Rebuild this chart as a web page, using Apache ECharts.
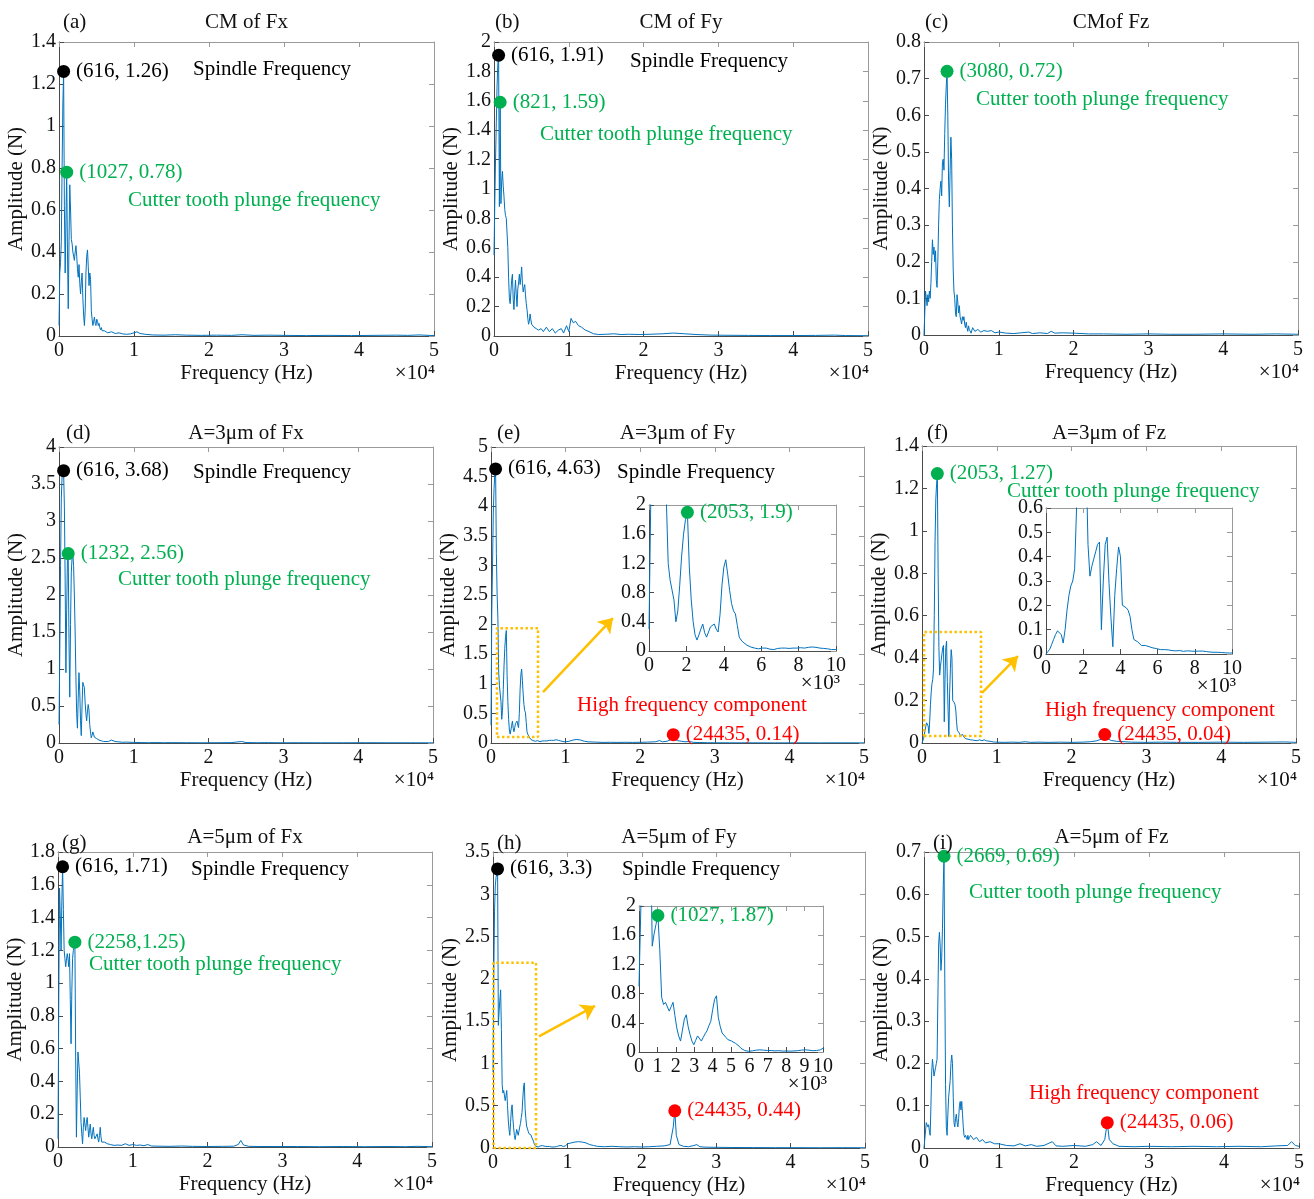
<!DOCTYPE html>
<html>
<head>
<meta charset="utf-8">
<title>Cutting force spectra</title>
<script src="https://cdn.jsdelivr.net/npm/echarts@6/dist/echarts.min.js"></script>
<style>
  html, body { margin: 0; padding: 0; background: #fff; }
  #chart { width: 1314px; height: 1199px; }
</style>
</head>
<body>
<div id="chart"></div>
<script>
// Spectral bin width of the force FFT (Hz)
const BIN_HZ = 616 / 6;

// ---- Amplitude spectra (N). "Low" arrays are consecutive bins from 0 Hz,
// ---- "Tail" arrays are [Hz, N] points for the rest of the band.
const cmFxLow = [0.05,0.30,0.35,0.45,0.80,1.10,1.26,0.62,0.30,0.55,0.78,0.40,0.13,0.45,0.72,0.60,0.46,0.44,0.40,0.38,0.36,0.40,0.43,0.38,0.32,0.28,0.34,0.25,0.20,0.26,0.30,0.18,0.10,0.05,0.12,0.30,0.38,0.41,0.33,0.24,0.30,0.27,0.12,0.08,0.05,0.07,0.09,0.06,0.05,0.08,0.07,0.05,0.06,0.04,0.03,0.04,0.025,0.03,0.02,0.025];
const cmFxTail = [[6160,0.02],[6500,0.015],[7000,0.02],[7500,0.012],[8000,0.015],[8500,0.01],[9000,0.008],[9500,0.01],[10000,0.015],[10400,0.02],[10800,0.012],[11500,0.008],[12500,0.005],[14000,0.004],[15500,0.006],[17000,0.004],[19000,0.003],[21000,0.004],[23000,0.003],[24400,0.006],[26000,0.003],[28000,0.004],[30000,0.003],[33000,0.002],[36000,0.003],[39000,0.002],[42000,0.003],[45000,0.004],[46500,0.003],[48000,0.005],[50000,0.002]];

const cmFyLow = [0.55,0.90,1.20,1.45,1.70,1.85,1.91,0.88,1.59,0.90,1.05,1.12,1.02,0.95,0.86,0.82,0.80,0.70,0.60,0.40,0.26,0.22,0.30,0.38,0.42,0.25,0.18,0.30,0.38,0.28,0.20,0.32,0.36,0.42,0.35,0.40,0.47,0.36,0.30,0.33,0.35,0.28,0.22,0.18,0.12,0.08,0.10,0.15,0.11,0.08,0.07,0.09,0.06,0.05,0.07,0.05,0.04,0.06,0.04,0.03];
const cmFyTail = [[6300,0.05],[6600,0.03],[7000,0.06],[7400,0.03],[7800,0.05],[8200,0.02],[8600,0.04],[9000,0.05],[9300,0.02],[9700,0.07],[10000,0.03],[10300,0.12],[10600,0.09],[10900,0.10],[11300,0.07],[11700,0.06],[12200,0.04],[12700,0.03],[13300,0.015],[14000,0.01],[15000,0.012],[16000,0.015],[17000,0.01],[18000,0.012],[19500,0.01],[21000,0.012],[22500,0.015],[24000,0.02],[25500,0.015],[27000,0.01],[29000,0.006],[31000,0.005],[34000,0.004],[37000,0.003],[40000,0.003],[43000,0.004],[45500,0.006],[47000,0.003],[50000,0.002]];

const cmFzLow = [0.00,0.06,0.12,0.10,0.08,0.11,0.09,0.12,0.10,0.14,0.20,0.26,0.22,0.24,0.20,0.23,0.15,0.13,0.20,0.30,0.37,0.40,0.42,0.38,0.47,0.48,0.45,0.55,0.63,0.68,0.72,0.60,0.42,0.35,0.45,0.54,0.48,0.30,0.18,0.12,0.10,0.06,0.05,0.11,0.09,0.06,0.08,0.05,0.04,0.03,0.05,0.04,0.05,0.03,0.02,0.035,0.02,0.01,0.025,0.015];
const cmFzTail = [[6300,0.005],[6500,0.02],[6800,0.01],[7200,0.015],[7600,0.008],[8000,0.012],[8500,0.01],[9000,0.012],[9500,0.006],[10000,0.008],[11000,0.005],[12000,0.004],[13000,0.006],[14000,0.008],[14500,0.004],[15500,0.006],[16500,0.004],[17000,0.01],[17500,0.005],[18500,0.006],[20000,0.005],[22000,0.003],[24000,0.003],[27000,0.002],[30000,0.003],[33000,0.002],[36000,0.002],[40000,0.003],[44000,0.002],[47000,0.003],[50000,0.002]];

const a3FxLow = [0.25,1.20,2.40,3.30,3.60,3.65,3.68,3.20,2.20,0.95,1.80,2.50,2.56,1.40,0.62,1.60,2.30,2.50,2.55,2.40,2.00,1.50,0.90,0.40,0.20,0.60,0.95,0.70,0.30,0.10,0.50,0.82,0.80,0.75,0.55,0.40,0.30,0.42,0.52,0.45,0.25,0.15,0.07,0.10,0.15,0.12,0.08,0.10,0.07,0.06,0.08,0.05,0.04,0.06,0.04,0.03,0.05,0.03,0.02,0.03];
const a3FxTail = [[6200,0.04],[6600,0.02],[7000,0.04],[7500,0.02],[8000,0.015],[8500,0.01],[9000,0.012],[10000,0.008],[11000,0.006],[12000,0.004],[13000,0.006],[14000,0.004],[15000,0.005],[17000,0.004],[19000,0.003],[21000,0.004],[23000,0.005],[24400,0.02],[25000,0.006],[26500,0.004],[28000,0.005],[30000,0.003],[32000,0.004],[35000,0.003],[38000,0.003],[41000,0.004],[44000,0.003],[47000,0.003],[50000,0.002]];

const a3FyLow = [0.30,2.20,3.00,3.90,4.30,4.55,4.63,3.20,2.50,2.10,1.20,0.97,0.95,0.70,0.40,0.55,0.90,1.30,1.60,1.80,1.90,1.15,0.70,0.40,0.22,0.15,0.22,0.30,0.37,0.25,0.19,0.26,0.33,0.35,0.37,0.30,0.26,0.50,0.90,1.15,1.25,1.05,0.83,0.65,0.55,0.51,0.35,0.19,0.15,0.12,0.10,0.08,0.06,0.055,0.05,0.04,0.035,0.03,0.03,0.04,0.045,0.04,0.03,0.025,0.02,0.02,0.03,0.035,0.04,0.04,0.035,0.04,0.04,0.035,0.04,0.04,0.045,0.04,0.04,0.045,0.045,0.04,0.045,0.05,0.05,0.055,0.05,0.05,0.045,0.04,0.04,0.035,0.03,0.03,0.025,0.02,0.02,0.02];
const a3FyTail = [[10000,0.02],[10500,0.03],[11000,0.05],[11500,0.06],[12000,0.05],[12500,0.03],[13000,0.02],[14000,0.015],[15000,0.01],[16000,0.012],[17000,0.01],[18000,0.012],[19000,0.01],[20000,0.012],[21000,0.015],[22000,0.02],[22600,0.04],[23000,0.02],[23600,0.03],[24000,0.05],[24230,0.08],[24435,0.14],[24640,0.06],[25000,0.04],[25500,0.03],[26000,0.02],[26600,0.025],[27200,0.01],[28000,0.008],[29000,0.005],[30000,0.004],[32000,0.003],[35000,0.003],[38000,0.002],[41000,0.003],[44000,0.002],[47000,0.003],[50000,0.002]];

const a3FzLow = [0.00,0.01,0.02,0.04,0.06,0.08,0.095,0.10,0.08,0.045,0.10,0.18,0.24,0.28,0.30,0.35,0.60,0.95,1.15,1.22,1.27,0.80,0.45,0.32,0.36,0.39,0.42,0.45,0.46,0.10,0.30,0.45,0.48,0.29,0.15,0.03,0.24,0.35,0.44,0.40,0.20,0.20,0.19,0.18,0.155,0.10,0.06,0.055,0.05,0.045,0.035,0.03,0.035,0.04,0.03,0.025,0.025,0.02,0.022,0.02,0.018,0.02,0.018,0.015,0.017,0.015,0.014,0.015,0.013,0.012,0.014,0.012,0.011,0.012,0.013,0.015,0.012,0.01,0.011,0.01,0.012,0.015,0.012,0.011,0.01,0.009,0.008,0.009,0.007,0.008,0.007,0.006,0.006,0.005,0.005,0.004,0.004,0.004];
const a3FzTail = [[10000,0.004],[11000,0.003],[12000,0.004],[13000,0.003],[13800,0.006],[14500,0.003],[15500,0.004],[17000,0.003],[18500,0.004],[20000,0.003],[21500,0.004],[22500,0.006],[23300,0.01],[24000,0.018],[24435,0.04],[24800,0.02],[25300,0.012],[26000,0.008],[27000,0.006],[28000,0.004],[30000,0.003],[32000,0.004],[34000,0.003],[37000,0.003],[40000,0.004],[43000,0.003],[46000,0.004],[48500,0.005],[50000,0.003]];

const a5FxLow = [0.05,0.90,1.58,1.40,1.20,1.50,1.71,1.45,1.20,1.15,1.10,1.14,1.18,1.15,1.10,1.18,0.90,0.63,0.95,1.15,1.20,1.22,1.25,0.55,0.06,0.35,0.58,0.57,0.45,0.30,0.15,0.08,0.02,0.12,0.18,0.17,0.10,0.15,0.18,0.12,0.06,0.10,0.14,0.08,0.05,0.09,0.12,0.07,0.05,0.04,0.06,0.08,0.05,0.03,0.07,0.12,0.06,0.03,0.02,0.03];
const a5FxTail = [[6200,0.03],[6600,0.02],[7000,0.015],[7500,0.01],[8000,0.012],[8500,0.01],[9000,0.02],[9500,0.01],[10000,0.015],[10500,0.01],[11000,0.012],[11500,0.008],[12000,0.015],[12500,0.006],[13500,0.005],[15000,0.004],[16500,0.006],[18000,0.004],[20000,0.003],[22000,0.004],[23500,0.005],[24100,0.015],[24435,0.04],[24800,0.012],[25500,0.004],[27000,0.003],[29000,0.003],[32000,0.003],[35000,0.002],[38000,0.003],[41000,0.002],[44000,0.003],[46500,0.002],[48000,0.004],[50000,0.002]];

const a5FyLow = [0.90,2.00,2.80,3.10,3.20,3.25,3.30,1.45,1.62,1.75,1.87,1.40,0.75,0.65,0.68,0.70,0.56,0.62,0.68,0.50,0.33,0.22,0.15,0.30,0.45,0.51,0.35,0.24,0.15,0.10,0.16,0.22,0.24,0.15,0.20,0.25,0.29,0.36,0.42,0.58,0.72,0.77,0.47,0.35,0.26,0.24,0.20,0.17,0.16,0.15,0.15,0.12,0.10,0.08,0.05,0.03,0.02,0.015,0.01,0.012,0.015,0.02,0.025,0.03,0.03,0.028,0.025,0.02,0.02,0.022,0.02,0.018,0.015,0.016,0.018,0.015,0.013,0.012,0.014,0.013,0.012,0.012,0.014,0.016,0.018,0.02,0.025,0.028,0.03,0.03,0.025,0.02,0.018,0.016,0.02,0.025,0.03,0.04];
const a5FyTail = [[10000,0.05],[10500,0.06],[11000,0.07],[11500,0.075],[12000,0.07],[12500,0.06],[13000,0.04],[13500,0.03],[14000,0.02],[15000,0.015],[16000,0.02],[17000,0.015],[18000,0.012],[19000,0.015],[20000,0.012],[21000,0.015],[22000,0.02],[23000,0.025],[23800,0.04],[24230,0.25],[24435,0.44],[24640,0.15],[25000,0.04],[25600,0.02],[26300,0.015],[27000,0.03],[27400,0.04],[27800,0.015],[28500,0.01],[30000,0.008],[32000,0.006],[35000,0.005],[38000,0.004],[41000,0.004],[44000,0.003],[47000,0.004],[50000,0.003]];

const a5FzLow = [0.00,0.02,0.04,0.06,0.06,0.05,0.055,0.04,0.03,0.10,0.18,0.21,0.19,0.17,0.17,0.19,0.20,0.21,0.35,0.48,0.51,0.48,0.42,0.45,0.52,0.62,0.69,0.40,0.15,0.05,0.03,0.08,0.12,0.12,0.16,0.20,0.22,0.20,0.12,0.06,0.05,0.07,0.08,0.06,0.05,0.07,0.10,0.11,0.09,0.11,0.08,0.05,0.03,0.025,0.03,0.025,0.02,0.03,0.02,0.025];
const a5FzTail = [[6200,0.03],[6600,0.02],[7000,0.025],[7400,0.015],[7800,0.02],[8200,0.012],[8800,0.015],[9400,0.01],[10000,0.01],[11000,0.006],[12000,0.005],[12800,0.01],[13500,0.005],[14300,0.008],[15000,0.004],[16000,0.006],[17100,0.015],[17600,0.005],[18500,0.004],[20000,0.006],[21500,0.004],[22500,0.008],[23000,0.015],[23600,0.006],[24100,0.02],[24435,0.06],[24700,0.02],[25200,0.01],[26000,0.004],[28000,0.003],[30000,0.004],[33000,0.003],[36000,0.004],[39000,0.003],[42000,0.004],[45000,0.003],[47000,0.005],[48500,0.006],[49000,0.015],[49500,0.006],[50000,0.004]];

// ---- Marked peaks: frequency (Hz), amplitude (N), kind
const cmFxPeaks = [{ f: 616, a: 1.26, kind: 'spindle' }, { f: 1027, a: 0.78, kind: 'tooth' }];
const cmFyPeaks = [{ f: 616, a: 1.91, kind: 'spindle' }, { f: 821, a: 1.59, kind: 'tooth' }];
const cmFzPeaks = [{ f: 3080, a: 0.72, kind: 'tooth' }];
const a3FxPeaks = [{ f: 616, a: 3.68, kind: 'spindle' }, { f: 1232, a: 2.56, kind: 'tooth' }];
const a3FyPeaks = [{ f: 616, a: 4.63, kind: 'spindle' }, { f: 24435, a: 0.14, kind: 'high' }];
const a3FyZoomPeaks = [{ f: 2053, a: 1.9, kind: 'tooth' }];
const a3FzPeaks = [{ f: 2053, a: 1.27, kind: 'tooth' }, { f: 24435, a: 0.04, kind: 'high' }];
const a5FxPeaks = [{ f: 616, a: 1.71, kind: 'spindle' }, { f: 2258, a: 1.25, kind: 'tooth', compact: true }];
const a5FyPeaks = [{ f: 616, a: 3.3, kind: 'spindle' }, { f: 24435, a: 0.44, kind: 'high' }];
const a5FyZoomPeaks = [{ f: 1027, a: 1.87, kind: 'tooth' }];
const a5FzPeaks = [{ f: 2669, a: 0.69, kind: 'tooth' }, { f: 24435, a: 0.06, kind: 'high' }];

// ---- Panel titles and y ranges
const panelLetters = ['(a)', '(b)', '(c)', '(d)', '(e)', '(f)', '(g)', '(h)', '(i)'];
const panelTitles = ['CM of Fx', 'CM of Fy', 'CMof Fz', 'A=3\u03bcm of Fx', 'A=3\u03bcm of Fy', 'A=3\u03bcm of Fz', 'A=5\u03bcm of Fx', 'A=5\u03bcm of Fy', 'A=5\u03bcm of Fz'];
const yMaxes = [1.4, 2, 0.8, 4, 5, 1.4, 1.8, 3.5, 0.7];
const yIntervals = [0.2, 0.2, 0.1, 0.5, 0.5, 0.2, 0.2, 0.5, 0.1];

const FONT = '"Liberation Serif", "Times New Roman", serif';
const INK = '#111111';
const BLUE = '#0072BD';
const ORANGE = '#FFC000';
const KIND_COLOR = { spindle: '#000000', tooth: '#00B050', high: '#FF0000' };
const NOTE_TEXT = { spindle: 'Spindle Frequency', tooth: 'Cutter tooth plunge frequency', high: 'High frequency component' };
const TEXT_SIZE = 21;
const TICK_SIZE = 20;

function spectrum(low, tail) {
  return low.map((a, k) => [k * BIN_HZ, a]).concat(tail);
}

// Layout of the nine panels: plot rectangle [left, top, width, height], letter / title anchor y, note anchors
const panels = [
  { low: cmFxLow, tail: cmFxTail, peaks: cmFxPeaks, rect: [59, 42, 375, 294], letterX: 63, letterY: 22, titleY: 22,
    notes: [['spindle', 193, 69], ['tooth', 128, 200]] },
  { low: cmFyLow, tail: cmFyTail, peaks: cmFyPeaks, rect: [494, 42, 374, 294], letterX: 495, letterY: 22, titleY: 22,
    notes: [['spindle', 630, 61], ['tooth', 540, 134]] },
  { low: cmFzLow, tail: cmFzTail, peaks: cmFzPeaks, rect: [924, 42, 374, 293], letterX: 925, letterY: 22, titleY: 22,
    notes: [['tooth', 976, 99]] },
  { low: a3FxLow, tail: a3FxTail, peaks: a3FxPeaks, rect: [59, 447, 374, 296], letterX: 66, letterY: 433, titleY: 433,
    notes: [['spindle', 193, 472], ['tooth', 118, 579]] },
  { low: a3FyLow, tail: a3FyTail, peaks: a3FyPeaks, rect: [491, 447, 373, 296], letterX: 497, letterY: 433, titleY: 433,
    notes: [['spindle', 617, 472], ['high', 577, 705]] },
  { low: a3FzLow, tail: a3FzTail, peaks: a3FzPeaks, rect: [922, 446, 374, 297], letterX: 927, letterY: 433, titleY: 433,
    notes: [['tooth', 1007, 491], ['high', 1045, 710]] },
  { low: a5FxLow, tail: a5FxTail, peaks: a5FxPeaks, rect: [58, 852, 374, 295], letterX: 62, letterY: 843, titleY: 837,
    notes: [['spindle', 191, 869], ['tooth', 89, 964]] },
  { low: a5FyLow, tail: a5FyTail, peaks: a5FyPeaks, rect: [493, 852, 372, 296], letterX: 497, letterY: 843, titleY: 837,
    notes: [['spindle', 622, 869]] },
  { low: a5FzLow, tail: a5FzTail, peaks: a5FzPeaks, rect: [924, 852, 375, 296], letterX: 933, letterY: 843, titleY: 837,
    notes: [['tooth', 969, 892], ['high', 1029, 1093]] }
];

// Zoomed views of 0-10 kHz for (e), (f), (h)
const insets = [
  { host: 4, rect: [649, 505, 187, 146], xStep: 2000, yMax: 2, yStep: 0.4, peaks: a3FyZoomPeaks,
    box: [800, 6300, 0.10, 1.94], arrow: [[6970, 0.86], [16350, 2.11]] },
  { host: 5, rect: [1046, 508, 186, 146], xStep: 2000, yMax: 0.6, yStep: 0.1, peaks: [],
    box: [270, 7890, 0.033, 0.523], arrow: [[8020, 0.236], [12830, 0.41]] },
  { host: 7, rect: [639, 906, 184, 146], xStep: 1000, yMax: 2, yStep: 0.4, peaks: a5FyZoomPeaks,
    box: [60, 5780, 0.0, 2.19], arrow: [[6180, 1.32], [13710, 1.68]] }
];

const grid = [], xAxis = [], yAxis = [], series = [], graphic = [];

function fmt(v) { return String(Math.round(v * 1000) / 1000); }

function addAxes(rect, xMax, xStep, xDiv, yMax, yStep, main) {
  const gi = grid.length;
  grid.push({ left: rect[0], top: rect[1], width: rect[2], height: rect[3], containLabel: false });
  const dark = '#4a4a4a', light = '#9a9a9a';
  const tick = (c) => ({ show: true, inside: true, length: 5, lineStyle: { color: c, width: 1 } });
  const labelStyle = { color: INK, fontFamily: FONT, fontSize: TICK_SIZE };
  xAxis.push({
    type: 'value', gridIndex: gi, position: 'bottom', min: 0, max: xMax, interval: xStep,
    axisLine: { show: true, onZero: false, lineStyle: { color: dark, width: 1 } },
    axisTick: tick(dark), splitLine: { show: false },
    axisLabel: Object.assign({ show: true, margin: 5, formatter: (v) => fmt(v / xDiv), hideOverlap: false }, labelStyle),
    name: main ? 'Frequency (Hz)' : '', nameLocation: 'middle', nameGap: 27,
    nameTextStyle: { color: INK, fontFamily: FONT, fontSize: TEXT_SIZE }
  });
  xAxis.push({
    type: 'value', gridIndex: gi, position: 'top', min: 0, max: xMax, interval: xStep,
    axisLine: { show: true, onZero: false, lineStyle: { color: light, width: 1 } },
    axisTick: tick(light), axisLabel: { show: false }, splitLine: { show: false }
  });
  yAxis.push({
    type: 'value', gridIndex: gi, position: 'left', min: 0, max: yMax, interval: yStep,
    axisLine: { show: true, onZero: false, lineStyle: { color: dark, width: 1 } },
    axisTick: tick(dark), splitLine: { show: false },
    axisLabel: Object.assign({ show: true, margin: 3, formatter: (v) => fmt(v) }, labelStyle),
    name: main ? 'Amplitude (N)' : '', nameLocation: 'middle', nameGap: 30,
    nameTextStyle: { color: INK, fontFamily: FONT, fontSize: TEXT_SIZE }
  });
  yAxis.push({
    type: 'value', gridIndex: gi, position: 'right', min: 0, max: yMax, interval: yStep,
    axisLine: { show: true, onZero: false, lineStyle: { color: light, width: 1 } },
    axisTick: tick(light), axisLabel: { show: false }, splitLine: { show: false }
  });
  return 2 * gi;
}

function peakText(p) { return '(' + p.f + (p.compact ? ',' : ', ') + p.a + ')'; }

function addSpectrum(axisIdx, data) {
  series.push({
    type: 'line', xAxisIndex: axisIdx, yAxisIndex: axisIdx, data: data,
    symbol: 'none', showSymbol: false, clip: true, silent: true, z: 2,
    lineStyle: { color: BLUE, width: 1 }
  });
}

function addPeaks(axisIdx, peaks) {
  if (!peaks.length) return;
  series.push({
    type: 'scatter', xAxisIndex: axisIdx, yAxisIndex: axisIdx, silent: true, z: 5,
    symbol: 'circle', symbolSize: 13,
    itemStyle: { opacity: 1 },
    data: peaks.map((p) => ({
      name: peakText(p), value: [p.f, p.a],
      itemStyle: { color: KIND_COLOR[p.kind], opacity: 1 },
      label: { color: KIND_COLOR[p.kind] }
    })),
    label: { show: true, position: 'right', distance: 6, formatter: (prm) => prm.name,
             fontFamily: FONT, fontSize: TEXT_SIZE }
  });
}

function text(str, x, y, opts) {
  const o = Object.assign({ align: 'left', color: INK, size: TEXT_SIZE }, opts || {});
  graphic.push({
    type: 'text', x: x, y: y, silent: true, z: 10,
    style: {
      text: str, fill: o.color, font: o.size + 'px ' + FONT,
      align: o.align, verticalAlign: 'middle',
      textAlign: o.align, textVerticalAlign: 'middle'
    }
  });
}

// Main panels
panels.forEach((p, i) => {
  const r = p.rect;
  const ax = addAxes(r, 50000, 10000, 10000, yMaxes[i], yIntervals[i], true);
  addSpectrum(ax, spectrum(p.low, p.tail));
  addPeaks(ax, p.peaks);
  p.axisIdx = ax;
  text(panelLetters[i], p.letterX, p.letterY);
  text(panelTitles[i], r[0] + r[2] / 2, p.titleY, { align: 'center' });
  text('\u00d710\u2074', r[0] + r[2] + 1, r[1] + r[3] + 37, { align: 'right' });
  p.notes.forEach(([kind, x, y]) => text(NOTE_TEXT[kind], x, y, { color: KIND_COLOR[kind] }));
});

// Zoomed insets, their dotted source window and the arrow between them
insets.forEach((z) => {
  const host = panels[z.host];
  const ax = addAxes(z.rect, 10000, z.xStep, 1000, z.yMax, z.yStep, false);
  addSpectrum(ax, spectrum(host.low, host.tail));
  addPeaks(ax, z.peaks);
  text('\u00d710\u00b3', z.rect[0] + z.rect[2] + 4, z.rect[1] + z.rect[3] + 32, { align: 'right' });

  const [x0, x1, y0, y1] = z.box;
  series.push({
    type: 'line', xAxisIndex: host.axisIdx, yAxisIndex: host.axisIdx, silent: true, z: 4,
    symbol: 'none', clip: false,
    data: [[x0, y0], [x1, y0], [x1, y1], [x0, y1], [x0, y0]],
    lineStyle: { color: ORANGE, width: 2.5, type: 'dotted' },
    markLine: {
      silent: true, animation: false, symbol: ['none', 'arrow'], symbolSize: 14,
      label: { show: false },
      lineStyle: { color: ORANGE, width: 2.5, type: 'solid' },
      data: [[{ coord: z.arrow[0] }, { coord: z.arrow[1] }]]
    }
  });
});

const chart = echarts.init(document.getElementById('chart'), null, { renderer: 'canvas' });
chart.setOption({
  animation: false,
  backgroundColor: '#ffffff',
  grid: grid, xAxis: xAxis, yAxis: yAxis, series: series, graphic: graphic
});
</script>
</body>
</html>
